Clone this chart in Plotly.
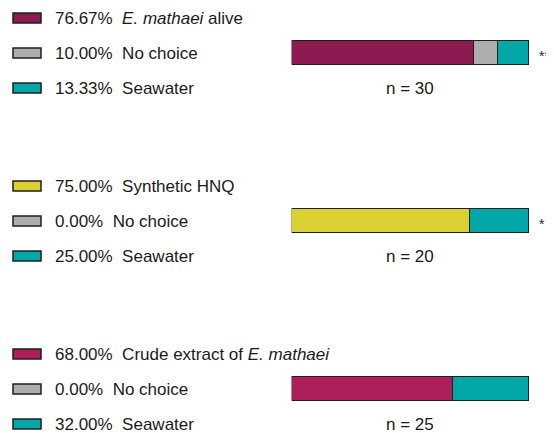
import plotly.graph_objects as go

# ---- data ----
treatment_labels = ["<i>E. mathaei</i> alive", "Synthetic HNQ", "Crude extract of <i>E. mathaei</i>"]
treatment_pct = [76.67, 75.00, 68.00]
nochoice_pct = [10.00, 0.00, 0.00]
seawater_pct = [13.33, 25.00, 32.00]
n_values = [30, 20, 25]
significance = ["***", "*", ""]

# ---- styles ----
treatment_colors = ["#8E1B4F", "#DCD133", "#AE1E5A"]
nochoice_color = "#ADADAD"
seawater_color = "#00A8A8"
edge = "#1E1E1E"
txt = "#1A1A1A"
FONT = "Liberation Sans, Arial, sans-serif"
OFF = 8                      # page body margin
W, H = 554 - OFF, 433 - OFF
row_gap = 35 / 168.0         # legend row spacing in axis units
bar_w = 24 / 168.0
FS = 17

fig = go.Figure()
for i in range(3):
    segs = [(treatment_pct[i], treatment_colors[i]),
            (nochoice_pct[i], nochoice_color),
            (seawater_pct[i], seawater_color)]
    for val, col in segs:
        if val <= 0:
            continue
        fig.add_trace(go.Bar(
            x=[val], y=[i], orientation="h", width=bar_w,
            marker=dict(color=col, line=dict(color=edge, width=1.2)),
            showlegend=False, hoverinfo="skip"))

annotations = []
shapes = []
for i in range(3):
    rows = [(treatment_pct[i], treatment_labels[i], treatment_colors[i]),
            (nochoice_pct[i], "No choice", nochoice_color),
            (seawater_pct[i], "Seawater", seawater_color)]
    for k, (val, lab, col) in enumerate(rows):
        yc = i + (k - 1) * row_gap
        shapes.append(dict(type="rect", xref="paper", yref="y",
                           x0=(13 - OFF) / W, x1=(41 - OFF) / W,
                           y0=yc - 5 / 168.0, y1=yc + 5 / 168.0,
                           fillcolor=col, line=dict(color=edge, width=1.5)))
        annotations.append(dict(xref="paper", yref="y", x=(53 - OFF) / W, y=yc,
                                xanchor="left", yanchor="middle", showarrow=False,
                                text=f"{val:.2f}%\u00a0\u00a0{lab}",
                                font=dict(size=FS, color=txt, family=FONT)))
    annotations.append(dict(xref="x", yref="y", x=50, y=i + row_gap,
                            xanchor="center", yanchor="middle", showarrow=False,
                            text=f"n = {n_values[i]}",
                            font=dict(size=FS, color=txt, family=FONT)))
    if significance[i]:
        annotations.append(dict(xref="paper", yref="y", x=(538 - OFF) / W, y=i,
                                xanchor="left", yanchor="middle", showarrow=False,
                                yshift=-3, borderpad=0,
                                text=significance[i],
                                font=dict(size=14, color="#222222", family=FONT)))

fig.update_layout(
    width=W, height=H,
    margin=dict(l=0, r=0, t=0, b=0),
    paper_bgcolor="white", plot_bgcolor="white",
    barmode="stack", bargap=0,
    xaxis=dict(domain=[(291.7 - OFF) / W, (529 - OFF) / W], range=[0, 100],
               visible=False, fixedrange=True),
    yaxis=dict(range=[380 / 168.0, -45 / 168.0], visible=False, fixedrange=True),
    shapes=shapes, annotations=annotations,
    showlegend=False,
)

fig.write_html("out.html")
